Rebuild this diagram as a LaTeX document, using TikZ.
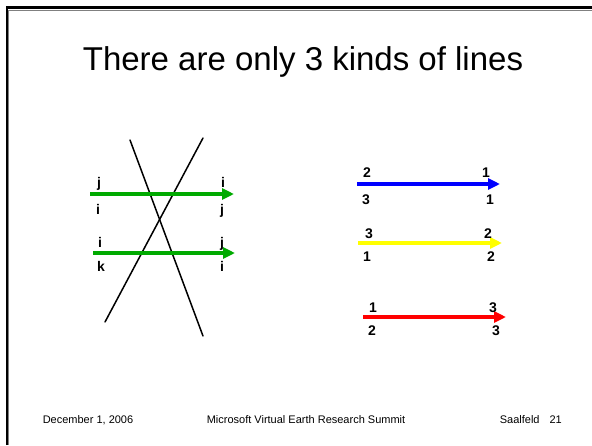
\documentclass[tikz,border=0pt]{standalone}
\usepackage{fontspec}
\setmainfont{Liberation Sans}
\usetikzlibrary{arrows.meta, positioning}
\definecolor{lngreen}{RGB}{0,170,0}
\definecolor{lnblue}{RGB}{0,0,255}
\definecolor{lnyellow}{RGB}{255,255,0}
\definecolor{lnred}{RGB}{255,0,0}

\begin{document}
\begin{tikzpicture}[
  x=1pt, y=-1pt,
  every node/.style={inner sep=0pt},
  arr/.style={-{Triangle[length=12pt, width=11pt]}, line width=4pt, draw=#1},
  lbl/.style={anchor=base, font=\fontsize{14}{16}\selectfont\bfseries},
  foot/.style={anchor=base, font=\fontsize{11}{13}\selectfont},
  cut/.style={line width=1.5pt, line cap=round},
]
\useasboundingbox (0,0) rectangle (592,445);

% slide frame
\draw[gray, line width=0.8pt] (8.8,445) |- (592,10);
\draw[line width=2.6pt] (6.8,445) |- (592,7.6);

\node[anchor=base, font=\fontsize{33}{39}\selectfont] (title) at (303,70) {There are only 3 kinds of lines};

% two crossing lines
\coordinate (a1) at (130,140);
\coordinate (a2) at (203,336);
\coordinate (c1) at (203,138);
\coordinate (c2) at (105,322);
\draw[cut] (a1) -- (a2);
\draw[cut] (c1) -- (c2);

% green arrows
\coordinate (g1) at (90,194);
\coordinate (g2) at (234,194);
\coordinate (h1) at (93,253);
\coordinate (h2) at (235,253);
\draw[arr=lngreen] (g1) -- (g2);
\draw[arr=lngreen] (h1) -- (h2);
\node[lbl] (gtl) at (99,187) {j};
\node[lbl] (gbl) at (98,214) {i};
\node[lbl] (gtr) at (223,187) {i};
\node[lbl] (gbr) at (222,214) {j};
\node[lbl] (htl) at (100,247) {i};
\node[lbl] (hbl) at (101,271) {k};
\node[lbl] (htr) at (222,247) {j};
\node[lbl] (hbr) at (222,271) {i};

% coloured arrows
\coordinate (b1) at (357,184);
\coordinate (b2) at (500,184);
\coordinate (y1) at (358,243);
\coordinate (y2) at (502,243);
\coordinate (r1) at (363,317);
\coordinate (r2) at (506,317);
\draw[arr=lnblue] (b1) -- (b2);
\draw[arr=lnyellow] (y1) -- (y2);
\draw[arr=lnred] (r1) -- (r2);
\node[lbl] (btl) at (367,177) {2};
\node[lbl] (btr) at (486,177) {1};
\node[lbl] (bbl) at (366,204) {3};
\node[lbl] (bbr) at (490,204) {1};
\node[lbl] (ytl) at (369,238) {3};
\node[lbl] (ytr) at (488,238) {2};
\node[lbl] (ybl) at (367,261) {1};
\node[lbl] (ybr) at (491,261) {2};
\node[lbl] (rtl) at (373,312) {1};
\node[lbl] (rtr) at (493,312) {3};
\node[lbl] (rbl) at (372,335) {2};
\node[lbl] (rbr) at (496,335) {3};

% footer
\node[foot] (date) at (88,423) {December 1, 2006};
\node[foot] (event) at (306,423) {Microsoft Virtual Earth Research Summit};
\node[foot, anchor=base east] (page) at (562,423) {Saalfeld\hspace{10pt}21};
\end{tikzpicture}
\end{document}
